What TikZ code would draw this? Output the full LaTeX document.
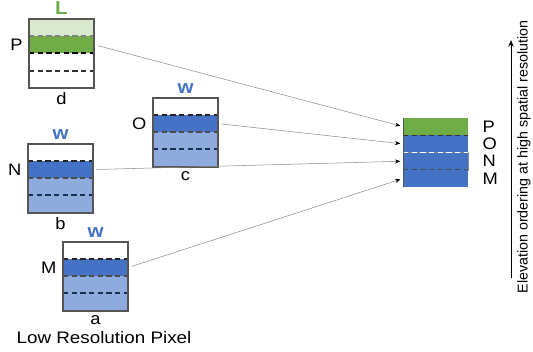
\documentclass[tikz,border=0pt]{standalone}
\usepackage{fontspec}
\setmainfont{Liberation Sans}
\usepackage{xcolor}
\usetikzlibrary{arrows.meta, positioning}
\definecolor{darkblue}{RGB}{68,114,196}
\definecolor{paleblue}{RGB}{143,170,220}
\definecolor{darkgreen}{RGB}{112,173,71}
\definecolor{palegreen}{RGB}{218,233,206}
\definecolor{edgegray}{RGB}{85,85,85}
\definecolor{linegray}{RGB}{140,140,140}

\begin{document}
\begin{tikzpicture}[
  x=0.75pt, y=-0.75pt,
  font=\fontsize{12}{13}\selectfont,
  pixel/.style={rectangle, draw=edgegray, line width=0.9pt, minimum width=48.75pt, minimum height=51.75pt, inner sep=0pt, outer sep=0pt},
  band/.style={rectangle, draw=none, minimum width=48.75pt, minimum height=12.9pt, inner sep=0pt, outer sep=0pt},
  split/.style={dash pattern=on 4pt off 2.5pt, line width=0.8pt},
  wmark/.style={font=\fontsize{14}{14}\selectfont\bfseries, text=darkblue, xscale=1.1},
  side/.style={font=\fontsize{12.5}{13}\selectfont, xscale=1.1},
  conn/.style={draw=linegray, line width=0.4pt, -{Stealth[length=4pt, width=3pt, color=black]}, shorten >=2pt, shorten <=3pt}
]
  \useasboundingbox (0,0) rectangle (533,351);

  % low resolution pixel with the L layer
  \fill[palegreen] (29,19) rectangle (95,36);
  \node[band, fill=darkgreen, anchor=north west] (dP) at (29,36) {};
  \draw[split, draw=gray] (29,36) -- (95,36);
  \draw[split, draw=black] (29,53) -- (95,53);
  \draw[split, draw=black!80] (29,71) -- (95,71);
  \node[pixel, anchor=north west] (d) at (29,19) {};
  \node[wmark, text=darkgreen, above=0pt of d] (dL) {L};
  \node[side, left=1pt of dP] (dlab) {P};
  \node[side, below=0pt of d] (dname) {d};

  % low resolution pixels with the w layer
  \foreach \id/\x/\y/\lab/\nm in {b/28/144/N/b, a/63/242/M/a, c/153/98/O/c} {
    \fill[paleblue] (\x,\y+34) rectangle ++(65,35);
    \node[band, fill=darkblue, anchor=north west] (\id band) at (\x,\y+17) {};
    \draw[split, draw=black!85] (\x,\y+17) -- ++(65,0);
    \draw[split, draw=black!70] (\x,\y+34) -- ++(65,0);
    \draw[split, draw=black!60!darkblue] (\x,\y+51) -- ++(65,0);
    \node[pixel, anchor=north west] (\id) at (\x,\y) {};
    \node[wmark, above=0pt of \id] (\id w) {w};
    \node[side, left=1pt of \id band] (\id lab) {\lab};
    \node[side, below=0pt of \id] (\id name) {\nm};
  }
  \node[font=\fontsize{12.5}{13}\selectfont, xscale=1.13] (lowres) at (104,338) {Low Resolution Pixel};

  % high resolution stack
  \node[band, fill=darkgreen, anchor=north west] (sP) at (403,118) {};
  \node[band, fill=darkblue, anchor=north west] (sO) at (403,135.3) {};
  \node[band, fill=darkblue, draw=edgegray!70, anchor=north west] (sN) at (403,152.6) {};
  \node[band, fill=darkblue, anchor=north west] (sM) at (403,169.9) {};
  \draw[split, draw=black!80] (sP.south west) -- (sP.south east);
  \draw[split, draw=white] (sO.south west) -- (sO.south east);
  \draw[split, draw=black!70] (sN.south west) -- (sN.south east);
  \draw[edgegray, line width=0.6pt] (sP.north west) -- (sM.south west);
  \foreach \l in {P,O,N,M} {
    \node[side, right=7pt of s\l] (s\l lab) {\l};
  }

  % connectors
  \draw[conn] (dP.east) -- (sP.west);
  \draw[conn] (cband.east) -- (sO.west);
  \draw[conn] (bband.east) -- (sN.west);
  \draw[conn] (aband.east) -- (sM.west);

  % elevation axis
  \coordinate (axisB) at (511,278);
  \coordinate (axisT) at (511,40);
  \draw[line width=0.7pt, -{Stealth[length=5pt, width=4pt]}] (axisB) -- (axisT);
  \node[rotate=90, font=\fontsize{10.7}{12}\selectfont] (axislab) at (524,157) {Elevation ordering at high spatial resolution};
\end{tikzpicture}
\end{document}
